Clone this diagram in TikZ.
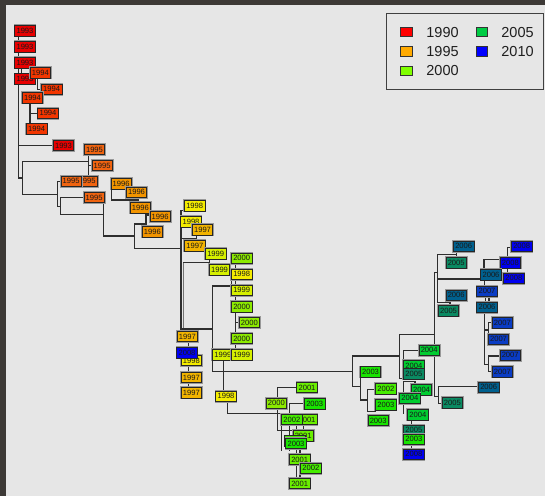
\documentclass[tikz,border=0pt]{standalone}
\usepackage{fontspec}
\setmainfont{Liberation Sans}
\pgfdeclarelayer{bg}
\pgfdeclarelayer{edges}
\pgfsetlayers{bg,edges,main}
\definecolor{frame}{HTML}{3D3936}
\definecolor{panel}{HTML}{E6E6E6}
\definecolor{edge}{HTML}{2E2E2E}
\definecolor{c1993}{HTML}{E80000}
\definecolor{c1994}{HTML}{F23600}
\definecolor{c1995}{HTML}{F06410}
\definecolor{c1996}{HTML}{F29400}
\definecolor{c1997}{HTML}{F2B400}
\definecolor{c1998}{HTML}{F4EC00}
\definecolor{c1999}{HTML}{D6F000}
\definecolor{c2000}{HTML}{8CEA00}
\definecolor{c2001}{HTML}{6AEE00}
\definecolor{c2002}{HTML}{46EC00}
\definecolor{c2003}{HTML}{18E400}
\definecolor{c2004}{HTML}{00CC30}
\definecolor{c2005}{HTML}{0A8A62}
\definecolor{c2006}{HTML}{00608E}
\definecolor{c2007}{HTML}{0A3CC4}
\definecolor{c2008}{HTML}{0000F0}
\definecolor{l1990}{HTML}{FF0000}
\definecolor{l1995}{HTML}{FFAA00}
\definecolor{l2000}{HTML}{80FF00}
\definecolor{l2005}{HTML}{00CC44}
\definecolor{l2010}{HTML}{0000FF}
\tikzset{
  yrbox/.style={draw=black!85, line width=0.9pt, minimum width=20.5pt, minimum height=10.5pt,
    inner sep=0pt, text=black!90, font=\fontsize{7.6}{8}\selectfont,
    preaction={draw=black!40, line width=2.4pt}},
  tree/.style={draw=edge, line width=1.4pt, line cap=rect},
  legsq/.style={draw=black!80, line width=0.8pt, minimum width=11.5pt, minimum height=9.5pt, inner sep=0pt},
  legtx/.style={anchor=west, inner sep=0pt, text=black!88, font=\fontsize{14.5}{16}\selectfont}
}
\newcommand{\yrb}[4]{\node[yrbox,fill=c#2] (#1) at (#3,#4) {#2};}
\begin{document}
\begin{tikzpicture}[x=1pt,y=-1pt]
\useasboundingbox (0,0) rectangle (545,496);
\begin{pgfonlayer}{bg}
\fill[frame] (0,0) rectangle (545,496);
\fill[panel] (6,5) rectangle (545,496);
\end{pgfonlayer}
% ---------------- tree edges
\begin{pgfonlayer}{edges}
% red cluster
\draw[tree] (18.5,35) -- (18.5,178) -- (22.3,178);
\draw[tree] (21.7,66) -- (21.7,76);
\draw[tree] (22.3,161.7) -- (22.3,194.3);
\draw[tree] (22.3,161.7) -- (88.3,161.7);
\draw[tree] (88.3,154.7) -- (88.3,177);
\draw[tree] (88.3,165.5) -- (92,165.5);
\draw[tree] (18.5,145.7) -- (53.3,145.7);
\draw[tree] (30,102.7) -- (30,124);
\draw[tree] (30,113.3) -- (37.7,113.3);
\draw[tree] (37.3,77.7) -- (37.3,89.3) -- (41.3,89.3);
\draw[tree] (22.3,194.3) -- (57.3,194.3);
\draw[tree] (61,181.7) -- (57.3,181.7) -- (57.3,206.3) -- (60.7,206.3);
\draw[tree] (84,197.3) -- (60.7,197.3) -- (60.7,214.3) -- (103.3,214.3);
\draw[tree] (103.3,202.7) -- (103.3,236) -- (134.3,236);
\draw[tree] (146,224) -- (134.3,224) -- (134.3,248.3) -- (181,248.3);
\draw[tree] (150,215) -- (146,215) -- (146,226.7);
\draw[tree] (111.3,188.7) -- (111.3,200) -- (138.3,200);
\draw[tree] (138.3,197.3) -- (138.3,202.3);
% yellow region
\draw[tree] (181,210.7) -- (181,331);
\draw[tree, draw=black!55] (183.3,262.3) -- (183.3,329);
\draw[tree] (181,210.7) -- (185,210.7);
\draw[tree] (181,238.3) -- (196.7,238.3);
\draw[tree] (196.7,226.7) -- (196.7,240.7);
\draw[tree] (183.3,262.3) -- (209.3,262.3);
\draw[tree] (209.3,259) -- (209.3,265);
\draw[tree] (181,329) -- (212.3,329);
\draw[tree] (231.3,286) -- (212.3,286) -- (212.3,371.7) -- (352.7,371.7);
\draw[tree] (235.7,263.3) -- (235.7,350);
\draw[tree] (231.7,270) -- (231.7,286.7);
\draw[tree] (235.7,322.7) -- (239,322.7);
\draw[tree] (188.3,341.7) -- (188.3,387.7);
\draw[tree] (223.3,360) -- (223.3,391.7);
\draw[tree] (227.3,401.7) -- (227.3,413.3) -- (281.7,413.3) -- (281.7,450);
% bottom green
\draw[tree] (277.3,398) -- (277.3,387.3) -- (296.7,387.3);
\draw[tree] (277.3,408.7) -- (277.3,430.7) -- (293,430.7);
\draw[tree] (304.3,403.3) -- (289.3,403.3) -- (289.3,450);
\draw[tree] (296.7,424.7) -- (296.7,478.3);
\draw[tree] (300,446) -- (300,478);
\draw[tree] (303.2,425) -- (303.2,430.3);
% middle
\draw[tree] (352.7,386.7) -- (352.7,356) -- (399.3,356);
\draw[tree] (434.3,334.3) -- (399.3,334.3) -- (399.3,378.3) -- (403.3,378.3);
\draw[tree] (352.7,386.7) -- (360.7,386.7);
\draw[tree] (360.7,376.7) -- (360.7,400) -- (367.7,400);
\draw[tree] (375.7,389.3) -- (367.7,389.3) -- (367.7,411.7) -- (375.7,411.7);
\draw[tree] (418.7,350.7) -- (403.3,350.7) -- (403.3,365);
\draw[tree] (415,384.7) -- (415,381.7) -- (403.3,381.7) -- (403.3,413.3);
\draw[tree] (411.7,420) -- (411.7,449);
\draw[tree] (434.3,272.7) -- (434.3,396.7) -- (438.3,396.7);
\draw[tree] (442,403.3) -- (438.3,403.3) -- (438.3,386.7) -- (478.3,386.7);
% right cluster
\draw[tree] (434.3,272.7) -- (437.7,272.7);
\draw[tree] (437.7,254.3) -- (437.7,302.7);
\draw[tree] (437.7,254.3) -- (456.7,254.3);
\draw[tree] (456.7,251.3) -- (456.7,257.3);
\draw[tree] (437.7,279) -- (480.7,279);
\draw[tree] (437.7,302.7) -- (450,302.7);
\draw[tree] (450,300.3) -- (450,305.7);
\draw[tree] (484,269.3) -- (484,259.3) -- (500,259.3);
\draw[tree] (511,247.3) -- (507.3,247.3) -- (507.3,257.3);
\draw[tree] (507.3,268) -- (507.3,272.7);
\draw[tree] (484.3,280) -- (484.3,286);
\draw[tree] (485.5,296.7) -- (485.5,302);
\draw[tree] (489,296.7) -- (489,302);
\draw[tree] (484.3,312.3) -- (484.3,364.3) -- (488.3,364.3);
\draw[tree] (484.3,330) -- (488.3,330);
\draw[tree] (492,322.7) -- (488.3,322.7) -- (488.3,334);
\draw[tree] (500,356) -- (488.3,356) -- (488.3,371.7) -- (492,371.7);
\end{pgfonlayer}
% ---------------- boxes: red/orange
\yrb{a1}{1993}{25}{30.7}
\yrb{a2}{1993}{25}{46.7}
\yrb{a3}{1993}{25}{62.7}
\yrb{a5}{1993}{25}{79}
\yrb{a4}{1994}{40.3}{72.7}
\yrb{a6}{1994}{51.7}{89.3}
\yrb{a7}{1994}{32.5}{97.7}
\yrb{a8}{1994}{48}{113.3}
\yrb{a9}{1994}{36.7}{129}
\yrb{a10}{1993}{63.5}{145.5}
\yrb{a11}{1995}{94.5}{149.5}
\yrb{a12}{1995}{102.2}{165.5}
\yrb{a14}{1995}{87.2}{181.3}
\yrb{a13}{1995}{71.2}{181.3}
\yrb{a15}{1996}{121.2}{183.8}
\yrb{a16}{1996}{136.5}{192.2}
\yrb{a17}{1995}{94.2}{197.5}
\yrb{a18}{1996}{140.3}{207.7}
\yrb{a19}{1996}{160.2}{216.5}
\yrb{a20}{1996}{152.3}{231.8}
% yellow column
\yrb{b1}{1998}{194.7}{205.7}
\yrb{b2}{1998}{191}{221.7}
\yrb{b3}{1997}{202.5}{229.8}
\yrb{b4}{1997}{194.8}{245.8}
\yrb{b5}{1999}{215.7}{253.8}
\yrb{b6}{2000}{241.7}{258.3}
\yrb{b7}{1999}{219.5}{269.8}
\yrb{b8}{1998}{241.7}{274.2}
\yrb{b9}{1999}{241.7}{290.3}
\yrb{b10}{2000}{241.7}{306.7}
\yrb{b11}{2000}{249.3}{322.5}
\yrb{b12}{2000}{241.7}{338.5}
\yrb{b13}{1999}{222.8}{354.7}
\yrb{b14}{1999}{241.7}{354.7}
\yrb{b15}{1997}{187.3}{336.5}
\yrb{b16}{1998}{191.3}{360.5}
\yrb{b17}{2008}{187}{352.7}
\yrb{b18}{1997}{191.3}{377.5}
\yrb{b19}{1997}{191.3}{392.8}
\yrb{b20}{1998}{226}{396.3}
% bottom green
\yrb{g1}{2000}{276.3}{403.3}
\yrb{g2}{2001}{307}{387.5}
\yrb{g3}{2003}{314.7}{403.7}
\yrb{g4}{2001}{307}{419.5}
\yrb{g5}{2002}{291.8}{419.5}
\yrb{g6}{2001}{303.2}{435.7}
\yrb{g7}{2002}{295}{441}
\yrb{g8}{2003}{296}{443.5}
\yrb{g9}{2001}{299.7}{459.5}
\yrb{g10}{2002}{310.8}{468.2}
\yrb{g11}{2001}{299.7}{483.5}
% middle right
\yrb{m1}{2003}{370.5}{372}
\yrb{m2}{2004}{429.2}{350.3}
\yrb{m3}{2004}{413.8}{365.7}
\yrb{m4}{2005}{413.8}{374}
\yrb{m5}{2002}{385.8}{388.7}
\yrb{m6}{2004}{421.5}{389.8}
\yrb{m7}{2004}{409.8}{398.3}
\yrb{m8}{2003}{385.8}{404.7}
\yrb{m9}{2004}{417.8}{414.7}
\yrb{m10}{2003}{378.2}{420.5}
\yrb{m11}{2005}{413.8}{430.3}
\yrb{m12}{2003}{413.8}{439.3}
\yrb{m13}{2008}{413.8}{454.3}
\yrb{m14}{2005}{452.3}{402.8}
\yrb{m15}{2006}{488.7}{387.3}
% right blue
\yrb{r1}{2006}{463.7}{246.2}
\yrb{r2}{2005}{456.2}{262.7}
\yrb{r3}{2008}{521.7}{246.2}
\yrb{r4}{2008}{510.3}{262.7}
\yrb{r5}{2006}{491}{274.7}
\yrb{r6}{2008}{513.8}{278.2}
\yrb{r7}{2007}{487}{291.3}
\yrb{r8}{2006}{456.2}{295.2}
\yrb{r9}{2006}{487}{307.2}
\yrb{r10}{2005}{448.5}{310.8}
\yrb{r11}{2007}{502.3}{322.7}
\yrb{r12}{2007}{498.5}{339.3}
\yrb{r13}{2007}{510.2}{355.3}
\yrb{r14}{2007}{502.3}{371.7}
% ---------------- legend
\node[draw=black!75, line width=0.9pt, fill=panel, minimum width=156.8pt, minimum height=76pt, inner sep=0pt] (legend) at (465.1,51.3) {};
\node[legsq, fill=l1990] (k1) at (406.5,32) {};
\node[legsq, fill=l1995] (k2) at (406.5,51.3) {};
\node[legsq, fill=l2000] (k3) at (406.5,70.7) {};
\node[legsq, fill=l2005] (k4) at (481.7,32) {};
\node[legsq, fill=l2010] (k5) at (481.7,51.3) {};
\node[legtx] (t1) at (426.2,32.3) {1990};
\node[legtx] (t2) at (426.2,51.6) {1995};
\node[legtx] (t3) at (426.2,71) {2000};
\node[legtx] (t4) at (501.2,32.3) {2005};
\node[legtx] (t5) at (501.2,51.6) {2010};
\end{tikzpicture}
\end{document}
